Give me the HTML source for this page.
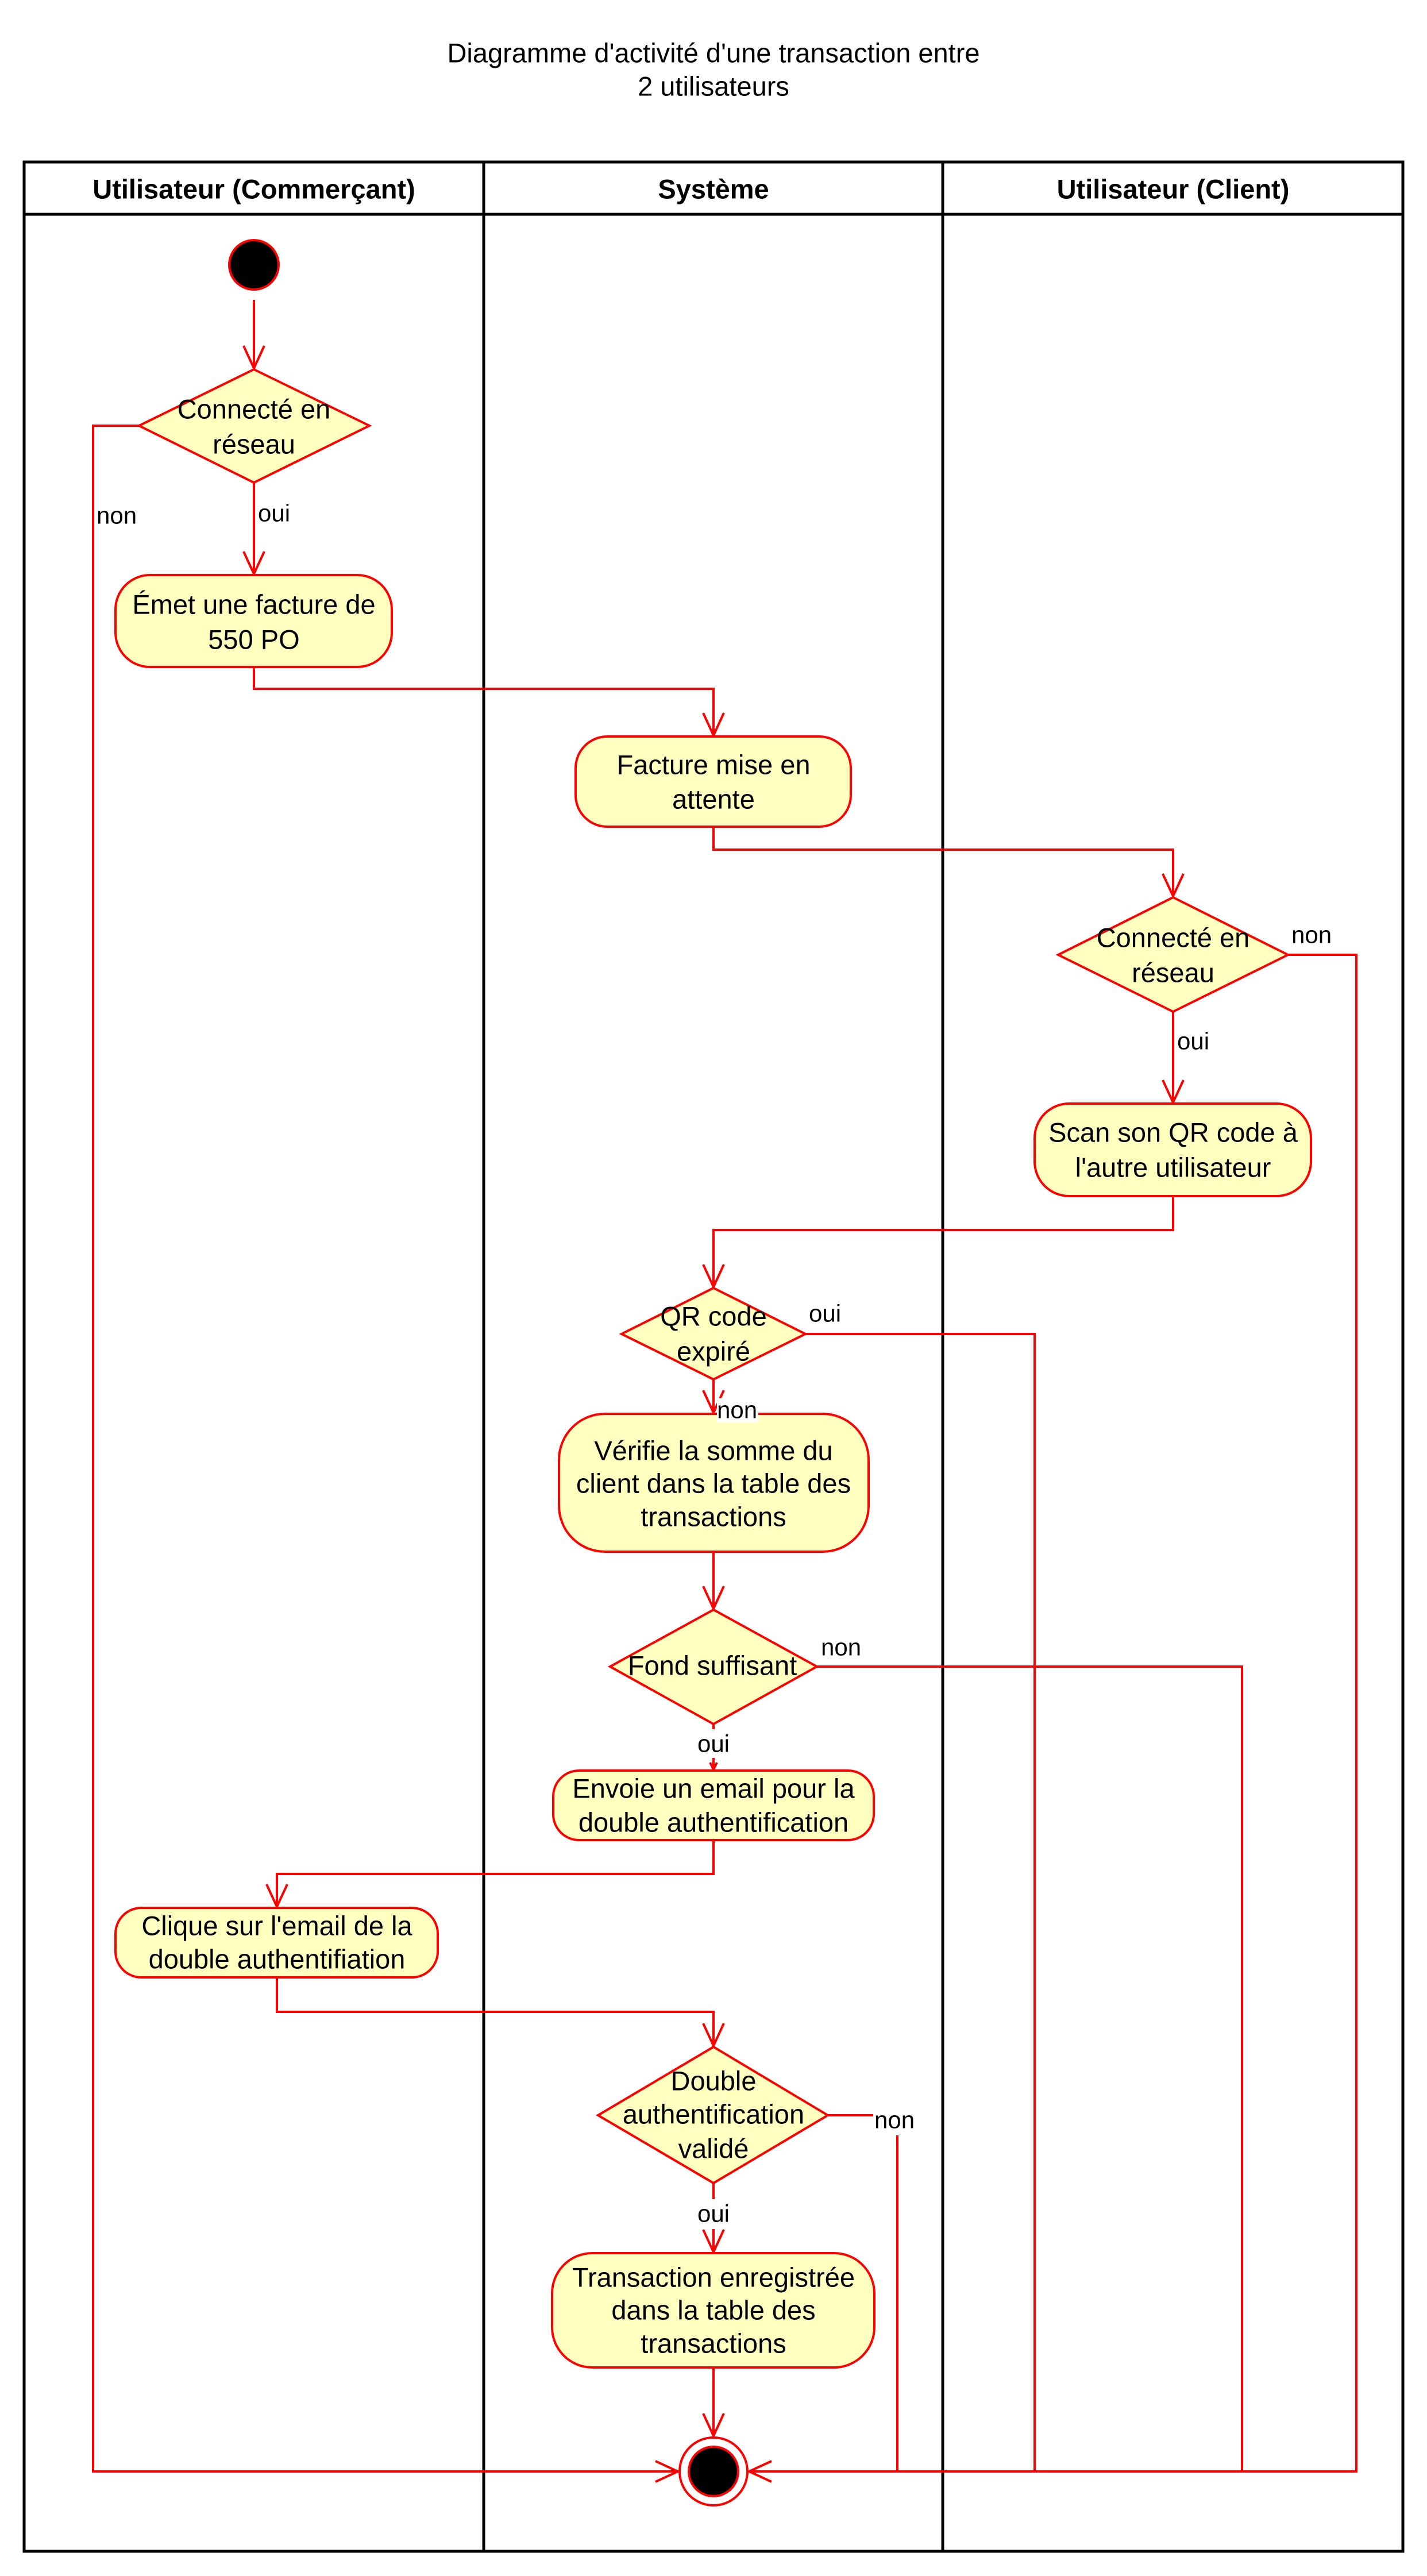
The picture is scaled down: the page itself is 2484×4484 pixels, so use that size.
<!DOCTYPE html>
<html><head><meta charset="utf-8"><style>
html,body{margin:0;padding:0;background:#fff;}
svg{display:block;}
text{font-family:"Liberation Sans",Arial,sans-serif;fill:#000;}
.t{font-size:47px;text-anchor:middle;dominant-baseline:central;}
.l{font-size:42px;dominant-baseline:central;}
.h{font-size:47px;font-weight:bold;text-anchor:middle;dominant-baseline:central;}
.r{stroke:#f00;stroke-width:4;fill:none;}
.n{stroke:#f00;stroke-width:4;fill:#ffffc0;}
</style></head><body>
<svg width="2484" height="4484" viewBox="0 0 2484 4484" xmlns="http://www.w3.org/2000/svg">
<text x="1242" y="92" style="font-size:47px;text-anchor:middle;dominant-baseline:central">Diagramme d'activité d'une transaction entre</text>
<text x="1242" y="150" style="font-size:47px;text-anchor:middle;dominant-baseline:central">2 utilisateurs</text>
<!-- pool -->
<rect x="42" y="282" width="2400" height="4159" fill="none" stroke="#000" stroke-width="5"/>
<line x1="42" y1="373" x2="2442" y2="373" stroke="#000" stroke-width="5"/>
<line x1="842" y1="282" x2="842" y2="4441" stroke="#000" stroke-width="5"/>
<line x1="1641" y1="282" x2="1641" y2="4441" stroke="#000" stroke-width="5"/>
<text class="h" x="442" y="329">Utilisateur (Commerçant)</text>
<text class="h" x="1242" y="329">Système</text>
<text class="h" x="2042" y="329">Utilisateur (Client)</text>

<!-- connectors -->
<g class="r">
<path d="M442 522 V641"/><path d="M424 602 L442 641 L460 602"/>
<path d="M442 840 V999"/><path d="M424 960 L442 999 L460 960"/>
<path d="M242 741 H162 V4302 H1180"/><path d="M1141 4284 L1180 4302 L1141 4320"/>
<path d="M442 1161 V1199 H1242 V1280"/><path d="M1224 1241 L1242 1280 L1260 1241"/>
<path d="M1242 1439 V1479 H2042 V1560"/><path d="M2024 1521 L2042 1560 L2060 1521"/>
<path d="M2242 1662 H2361 V4302 H1304"/><path d="M1343 4284 L1304 4302 L1343 4320"/>
<path d="M2042 1761 V1919"/><path d="M2024 1880 L2042 1919 L2060 1880"/>
<path d="M2042 2082 V2141 H1242 V2240"/><path d="M1224 2201 L1242 2240 L1260 2201"/>
<path d="M1402 2322 H1801 V4302"/>
<path d="M1242 2401 V2459"/><path d="M1224 2420 L1242 2459 L1260 2420"/>
<path d="M1242 2701 V2800"/><path d="M1224 2761 L1242 2800 L1260 2761"/>
<path d="M1422 2901 H2162 V4302"/>
<path d="M1242 3001 V3010"/><path d="M1242 3060 V3080"/><path d="M1236 3068 L1242 3080 L1248 3068"/>
<path d="M1242 3203 V3262 H482 V3319"/><path d="M464 3280 L482 3319 L500 3280"/>
<path d="M482 3442 V3502 H1242 V3561"/><path d="M1224 3522 L1242 3561 L1260 3522"/>
<path d="M1441 3682 H1520"/><path d="M1562 3717 V4302"/>
<path d="M1242 3800 V3828"/><path d="M1242 3880 V3920"/><path d="M1224 3881 L1242 3920 L1260 3881"/>
<path d="M1242 4121 V4240"/><path d="M1224 4201 L1242 4240 L1260 4201"/>
</g>

<!-- start -->
<circle cx="442" cy="461" r="43" fill="#000" stroke="#f00" stroke-width="4"/>
<!-- end -->
<circle cx="1242" cy="4302" r="59" fill="#fff" stroke="#f00" stroke-width="4"/>
<circle cx="1242" cy="4302" r="43" fill="#000" stroke="#f00" stroke-width="4"/>

<!-- nodes -->
<polygon class="n" points="442,643 643,741 442,840 242,741"/>
<text class="t" x="442" y="712">Connecté en</text><text class="t" x="442" y="773">réseau</text>
<text class="l" x="168" y="897">non</text><text class="l" x="449" y="893">oui</text>

<rect class="n" x="201" y="1001" width="481" height="160" rx="60"/>
<text class="t" x="442" y="1052">Émet une facture de</text><text class="t" x="442" y="1113">550 PO</text>

<rect class="n" x="1002" y="1282" width="479" height="157" rx="55"/>
<text class="t" x="1242" y="1331">Facture mise en</text><text class="t" x="1242" y="1391">attente</text>

<polygon class="n" points="2042,1562 2242,1662 2042,1761 1842,1662"/>
<text class="t" x="2042" y="1632">Connecté en</text><text class="t" x="2042" y="1693">réseau</text>
<text class="l" x="2248" y="1627">non</text><text class="l" x="2049" y="1812">oui</text>

<rect class="n" x="1801" y="1921" width="481" height="161" rx="60"/>
<text class="t" x="2042" y="1971">Scan son QR code à</text><text class="t" x="2042" y="2032">l'autre utilisateur</text>

<polygon class="n" points="1242,2242 1402,2322 1242,2401 1082,2322"/>
<text class="t" x="1242" y="2291">QR code</text><text class="t" x="1242" y="2352">expiré</text>
<text class="l" x="1408" y="2286">oui</text>

<rect class="n" x="973" y="2461" width="539" height="240" rx="80"/>
<rect x="1248" y="2434" width="72" height="42" fill="#fff"/>
<text class="l" x="1248" y="2454">non</text>
<text class="t" x="1242" y="2525">Vérifie la somme du</text><text class="t" x="1242" y="2582">client dans la table des</text><text class="t" x="1242" y="2640">transactions</text>

<polygon class="n" points="1242,2802 1422,2901 1242,3001 1062,2901"/>
<text class="t" x="1240" y="2899">Fond suffisant</text>
<text class="l" x="1429" y="2867">non</text>
<text class="l" x="1242" y="3035" style="text-anchor:middle">oui</text>

<rect class="n" x="963" y="3082" width="558" height="121" rx="45"/>
<text class="t" x="1242" y="3113">Envoie un email pour la</text><text class="t" x="1242" y="3172">double authentification</text>

<rect class="n" x="201" y="3321" width="561" height="121" rx="45"/>
<text class="t" x="482" y="3352">Clique sur l'email de la</text><text class="t" x="482" y="3410">double authentifiation</text>

<polygon class="n" points="1242,3563 1441,3682 1242,3800 1041,3682"/>
<text class="t" x="1242" y="3622">Double</text><text class="t" x="1242" y="3680">authentification</text><text class="t" x="1242" y="3740">validé</text>
<text class="l" x="1522" y="3690">non</text>
<text class="l" x="1242" y="3853" style="text-anchor:middle">oui</text>

<rect class="n" x="961" y="3922" width="561" height="199" rx="70"/>
<text class="t" x="1242" y="3964">Transaction enregistrée</text><text class="t" x="1242" y="4021">dans la table des</text><text class="t" x="1242" y="4079">transactions</text>
</svg>
</body></html>
